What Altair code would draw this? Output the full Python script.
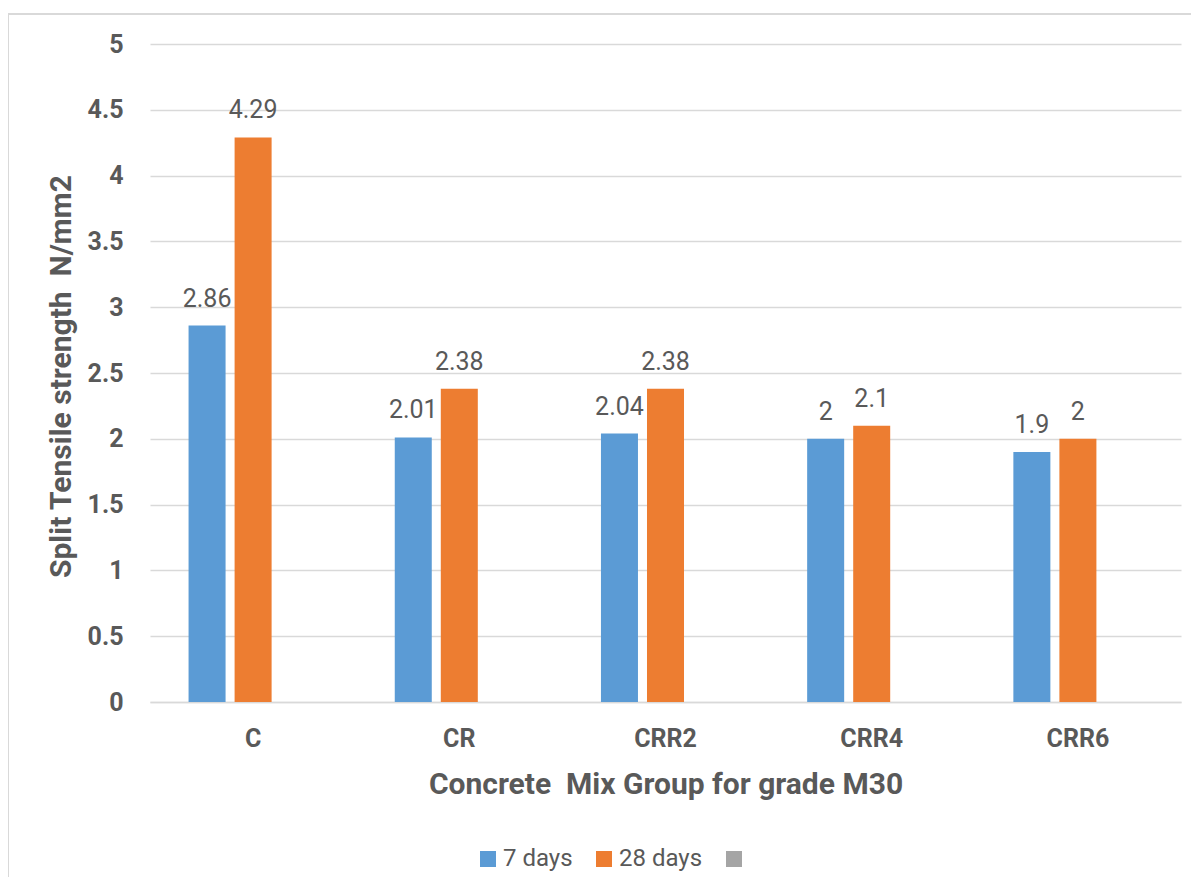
import altair as alt
import pandas as pd

groups = ["C", "CR", "CRR2", "CRR4", "CRR6"]
days7 = [2.86, 2.01, 2.04, 2.0, 1.9]
days28 = [4.29, 2.38, 2.38, 2.1, 2.0]
series = ["7 days", "28 days"]
legend_items = ["7 days", "28 days", "_"]
colors = ["#5B9BD5", "#ED7D31", "#A5A5A5"]
y_ticks = [0, 0.5, 1, 1.5, 2, 2.5, 3, 3.5, 4, 4.5, 5]

rows = []
for g, a, b in zip(groups, days7, days28):
    rows.append({"group": g, "series": series[0], "value": a})
    rows.append({"group": g, "series": series[1], "value": b})
df = pd.DataFrame(rows)

TXT = "#595959"
GRID = "#D9D9D9"
FONT = "Roboto"

x_scale = alt.Scale(paddingInner=0.374, paddingOuter=0.187)
xo_scale = alt.Scale(domain=legend_items, paddingInner=0.196, paddingOuter=0)

x_enc = alt.X(
    "group:N", sort=groups, scale=x_scale,
    axis=alt.Axis(
        title="Concrete\u00a0 Mix Group for grade M30",
        labelAngle=0, labelFontSize=25, labelFontWeight="bold", labelColor=TXT,
        labelFont=FONT, labelPadding=24, ticks=False, tickSize=0,
        domainColor=GRID, domainWidth=1.5,
        titleFontSize=30, titleFontWeight="bold", titleColor=TXT, titleFont=FONT,
        titleY=91, titleBaseline="alphabetic",
    ),
)
xo_enc = alt.XOffset("series:N", scale=xo_scale)
y_enc = alt.Y(
    "value:Q",
    scale=alt.Scale(domain=[0, 5], nice=False),
    axis=alt.Axis(
        values=y_ticks, format="~g",
        title="Split Tensile strength\u00a0 N/mm2",
        labelFontSize=25, labelFontWeight="bold", labelColor=TXT, labelFont=FONT,
        labelPadding=27, ticks=False, tickSize=0, domain=False,
        grid=True, gridColor=GRID, gridWidth=1.5,
        titleFontSize=30, titleFontWeight="bold", titleColor=TXT, titleFont=FONT,
        titleX=-80, titleY=332, titleAngle=270, titleBaseline="alphabetic", titleAlign="center",
    ),
)

bars = alt.Chart(df).mark_bar().encode(
    x=x_enc, xOffset=xo_enc, y=y_enc,
    color=alt.Color(
        "series:N",
        scale=alt.Scale(domain=legend_items, range=colors),
        legend=alt.Legend(
            title=None, orient="none", legendX=326, legendY=803, direction="horizontal",
            columns=3, symbolType="square", symbolSize=256, symbolStrokeWidth=0,
            labelFontSize=24, labelColor=TXT, labelFont=FONT, labelOffset=3,
            columnPadding=19, padding=0,
            labelExpr="datum.label == '_' ? '' : datum.label",
        ),
    ),
)

labels = alt.Chart(df).mark_text(
    dy=-19, baseline="alphabetic", fontSize=25, font=FONT, color=TXT
).encode(
    x=alt.X("group:N", sort=groups, scale=x_scale),
    xOffset=alt.XOffset("series:N", scale=xo_scale),
    y="value:Q", text=alt.Text("value:Q", format=".3~g"),
)

border_data = alt.Data(values=[{"k": 1}])
border_left = alt.Chart(border_data).mark_rule(color=GRID, strokeWidth=2).encode(
    x=alt.value(-142), y=alt.value(-30), y2=alt.value(900)
)
border_top = alt.Chart(border_data).mark_rule(color=GRID, strokeWidth=2).encode(
    x=alt.value(-142), x2=alt.value(1200), y=alt.value(-30)
)

chart = alt.layer(bars, labels, border_left, border_top).properties(
    width=1031, height=658,
    autosize=alt.AutoSizeParams(type="none"),
    padding={"left": 142, "top": 36, "right": 10, "bottom": 175},
).configure_view(stroke=None)

chart.save("out.html", embed_options={"renderer": "svg", "actions": False})
